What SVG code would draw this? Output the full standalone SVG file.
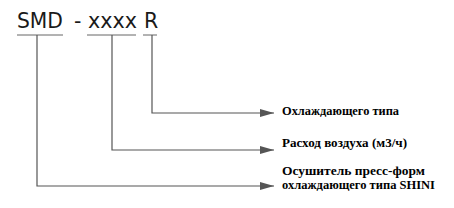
<svg xmlns="http://www.w3.org/2000/svg" width="454" height="208" viewBox="0 0 454 208">
<style>
.code{font-family:"DejaVu Sans",sans-serif;font-size:20.5px;fill:#1a1a1a}
.lbl{font-family:"Liberation Serif","Times New Roman",serif;font-size:13px;font-weight:bold;fill:#000}
.ln{stroke:#555;stroke-width:1.2;fill:none}
.ul{stroke:#666;stroke-width:1;fill:none}
</style>
<defs>
<marker id="arr" viewBox="0 0 14 8" refX="14" refY="4" markerWidth="14" markerHeight="8" markerUnits="userSpaceOnUse" orient="auto">
<path d="M0,0 L14,4 L0,8 Z" fill="#555"/>
</marker>
</defs>
<rect width="454" height="208" fill="#fff"/>
<g id="code">
<text class="code" x="17" y="28" textLength="46" lengthAdjust="spacingAndGlyphs">SMD</text>
<text class="code" x="74" y="28">-</text>
<text class="code" x="88" y="28" textLength="49" lengthAdjust="spacingAndGlyphs">xxxx</text>
<text class="code" x="144" y="28">R</text>
<line class="ul" x1="17" y1="35" x2="63" y2="35"/>
<line class="ul" x1="87" y1="35" x2="136" y2="35"/>
<line class="ul" x1="143" y1="35" x2="157" y2="35"/>
</g>
<g id="connectors">
<path class="ln" d="M152,35 V113 H274" marker-end="url(#arr)"/>
<path class="ln" d="M112,35 V150 H274" marker-end="url(#arr)"/>
<path class="ln" d="M37,35 V186 H274" marker-end="url(#arr)"/>
</g>
<g id="label-r">
<text class="lbl" x="282" y="115" textLength="117" lengthAdjust="spacingAndGlyphs">Охлаждающего типа</text>
</g>
<g id="label-xxxx">
<text class="lbl" x="282" y="147" textLength="125" lengthAdjust="spacingAndGlyphs">Расход воздуха (м3/ч)</text>
</g>
<g id="label-smd">
<text class="lbl" x="282" y="175" textLength="143" lengthAdjust="spacingAndGlyphs">Осушитель пресс-форм</text>
<text class="lbl" x="282" y="189" textLength="153" lengthAdjust="spacingAndGlyphs">охлаждающего типа SHINI</text>
</g>
</svg>
